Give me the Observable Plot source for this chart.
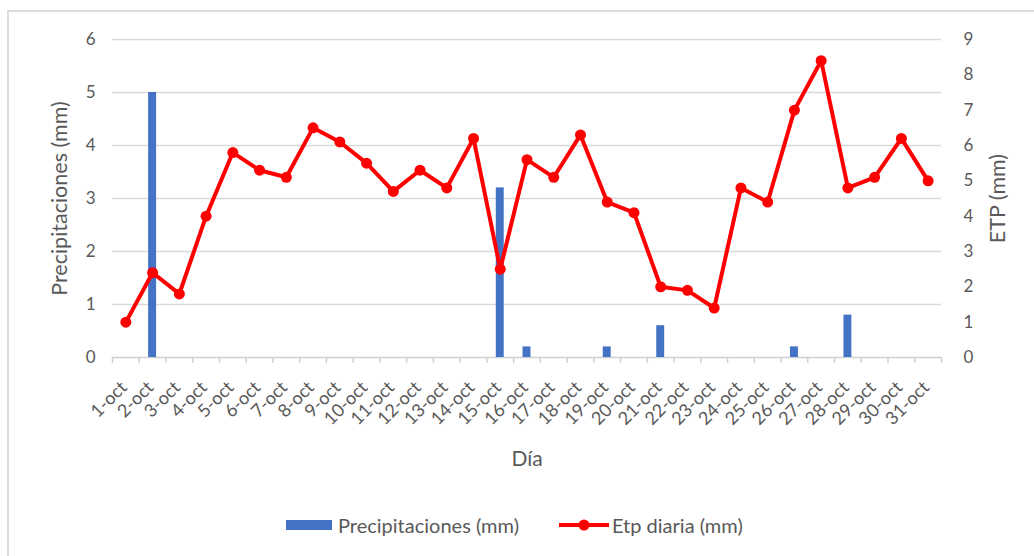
<!DOCTYPE html>
<html>
<head>
<meta charset="utf-8">
<script src="https://cdn.jsdelivr.net/npm/d3@7"></script>
<script src="https://cdn.jsdelivr.net/npm/@observablehq/plot@0.6"></script>
<style>
  body { margin: 0; background: #fff; font-family: Lato, "Open Sans", sans-serif; }
  #wrap { position: relative; width: 1034px; height: 556px; overflow: hidden; }
  #frame { position: absolute; left: 7px; top: 10px; width: 1040px; height: 560px;
           border-left: 2px solid #dcdcdc; border-top: 2px solid #dcdcdc; }
  #chart { position: absolute; left: 0; top: 0; }
  .legend { position: absolute; top: 512px; font-size: 20px; line-height: 26px; color: #595959; display: flex; align-items: center; }
</style>
</head>
<body>
<div id="wrap">
  <div id="frame"></div>
  <div id="chart"></div>
  <div class="legend" style="left:286px">
    <svg width="46" height="12"><rect x="0" y="1" width="46" height="10" fill="#4472c4"></rect></svg>
    <span style="margin-left:6px">Precipitaciones (mm)</span>
  </div>
  <div class="legend" style="left:559px">
    <svg width="50" height="14"><line x1="0" y1="7" x2="50" y2="7" stroke="#f00" stroke-width="4"></line><circle cx="25" cy="7" r="5.5" fill="#f00"></circle></svg>
    <span style="margin-left:3px">Etp diaria (mm)</span>
  </div>
</div>
<script>
const days = ["1-oct","2-oct","3-oct","4-oct","5-oct","6-oct","7-oct","8-oct","9-oct","10-oct",
  "11-oct","12-oct","13-oct","14-oct","15-oct","16-oct","17-oct","18-oct","19-oct","20-oct",
  "21-oct","22-oct","23-oct","24-oct","25-oct","26-oct","27-oct","28-oct","29-oct","30-oct","31-oct"];
const precip = [0,5,0,0,0,0,0,0,0,0, 0,0,0,0,3.2,0.2,0,0,0.2,0, 0.6,0,0,0,0,0.2,0,0.8,0,0,0];
const etp = [1.0,2.4,1.8,4.0,5.8,5.3,5.1,6.5,6.1,5.5, 4.7,5.3,4.8,6.2,2.5,5.6,5.1,6.3,4.4,4.1,
  2.0,1.9,1.4,4.8,4.4,7.0,8.4,4.8,5.1,6.2,5.0];
const leftTicks = [0,1,2,3,4,5,6];
const rightTicks = [0,1,2,3,4,5,6,7,8,9];
const leftMax = 6, rightMax = 9;
const k = leftMax / rightMax;

const data = days.map((d, i) => ({day: d, i, pos: i + 0.5, p: precip[i], e: etp[i], es: etp[i] * k}));
const bounds = d3.range(0, days.length + 1);
const grey = "#595959";

const chart = Plot.plot({
  width: 1034,
  height: 480,
  marginLeft: 112,
  marginRight: 93,
  marginTop: 39,
  marginBottom: 123,
  style: {fontFamily: "Lato, 'Open Sans', sans-serif", color: grey, background: "transparent"},
  x: {type: "linear", domain: [0, days.length], axis: null},
  y: {type: "linear", domain: [0, leftMax], axis: null},
  marks: [
    Plot.ruleY(leftTicks.filter(v => v > 0), {y: d => d, stroke: "#d9d9d9", strokeWidth: 1.5}),
    Plot.ruleY([0], {y: d => d, stroke: "#d0d0d0", strokeWidth: 1.5}),
    Plot.ruleX(bounds, {x: d => d, y1: 0, y2: 0, insetBottom: -6, stroke: "#d0d0d0", strokeWidth: 1.5}),
    Plot.rectY(data.filter(d => d.p > 0), {x1: d => d.i, x2: d => d.i + 1, y: "p", fill: "#4472c4", insetLeft: 9.4, insetRight: 9.4}),
    Plot.line(data, {x: "pos", y: "es", stroke: "#ff0000", strokeWidth: 4, strokeLinejoin: "round"}),
    Plot.dot(data, {x: "pos", y: "es", r: 5.5, fill: "#ff0000"}),
    // left axis labels
    Plot.text(leftTicks, {x: 0, y: d => d, text: d => String(d), dx: -17, textAnchor: "end", fontSize: 17, fill: grey}),
    // right axis labels
    Plot.text(rightTicks, {x: days.length, y: d => d * k, text: d => String(d), dx: 22, textAnchor: "start", fontSize: 17, fill: grey}),
    // x tick labels
    Plot.text(data, {x: "pos", y: 0, text: "day", rotate: -45, textAnchor: "end", fontSize: 18, fill: grey, dx: -2, dy: 27}),
    // axis titles
    Plot.text(["Día"], {x: days.length / 2, y: 0, text: d => d, fontSize: 21, fill: grey, dy: 102}),
    Plot.text(["Precipitaciones (mm)"], {x: 0, y: leftMax / 2, text: d => d, rotate: -90, fontSize: 21.5, fill: grey, dx: -52}),
    Plot.text(["ETP (mm)"], {x: days.length, y: leftMax / 2, text: d => d, rotate: -90, fontSize: 21.5, fill: grey, dx: 57})
  ]
});
document.getElementById("chart").appendChild(chart);
</script>
</body>
</html>
